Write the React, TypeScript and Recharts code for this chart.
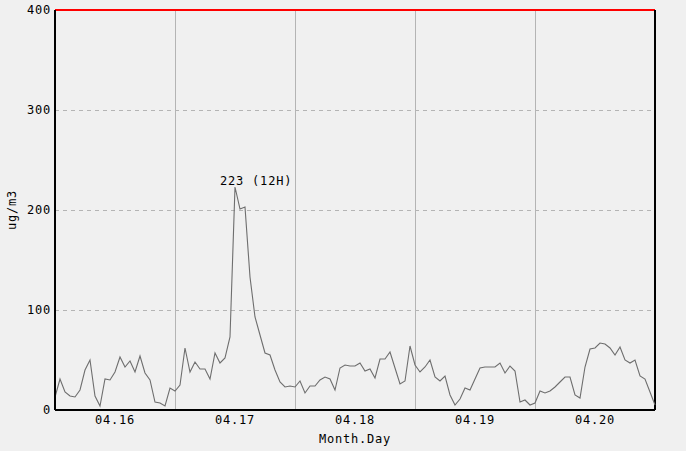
import React from "react";
import {
  CartesianGrid,
  LabelList,
  Line,
  LineChart,
  ReferenceLine,
  XAxis,
  YAxis,
} from "recharts";

// hourly concentration, 04.16 00H .. 04.20 24H
const values = [
  13, 31, 18, 14, 13, 20, 40, 50, 14, 4, 31, 30, 38, 53, 43, 49, 38, 54, 37, 30, 8, 7, 4, 22, 19,
  25, 62, 38, 48, 41, 41, 31, 57, 47, 52, 73, 223, 201, 203, 133, 93, 75, 57, 55, 40, 28, 23, 24, 23,
  29, 17, 24, 24, 30, 33, 31, 20, 42, 45, 44, 44, 47, 39, 41, 32, 51, 51, 58, 42, 26, 29, 64, 45,
  38, 43, 50, 33, 29, 34, 15, 5, 11, 22, 20, 31, 42, 43, 43, 43, 47, 37, 44, 39, 8, 10, 5, 7,
  19, 17, 19, 23, 28, 33, 33, 15, 12, 43, 61, 62, 67, 66, 62, 55, 63, 50, 47, 50, 34, 31, 18, 5,
];
const dayLabels = ["04.16", "04.17", "04.18", "04.19", "04.20"];
const dayTicks = [12, 36, 60, 84, 108];
const dayBounds = [24, 48, 72, 96];
const yTicks = [0, 100, 200, 300, 400];

const data = values.map((v, h) => ({ h, v }));
const peak = Math.max(...values);
const peakIndex = values.indexOf(peak);

const font = "'DejaVu Sans Mono', monospace";
const textStyle = { fontFamily: font, fontSize: 12, fill: "#000", letterSpacing: 0.8 };

function PeakLabel(props: any) {
  const { x, y, index } = props;
  if (index !== peakIndex) return null;
  return (
    <text x={x - 15} y={y - 2} style={textStyle}>
      {`${peak} (${peakIndex % 24}H)`}
    </text>
  );
}

export default function App() {
  return (
    <div
      style={{
        position: "absolute",
        top: 0,
        left: 0,
        width: 686,
        height: 451,
        background: "#f0f0f0",
      }}
    >
      <LineChart
        width={686}
        height={451}
        data={data}
        margin={{ top: 10, right: 31, bottom: 0, left: 0 }}
      >
        <CartesianGrid
          vertical={false}
          stroke="#b4b4b4"
          strokeDasharray="4 4"
          shapeRendering="crispEdges"
        />
        {dayBounds.map((d) => (
          <ReferenceLine key={d} x={d} stroke="#b4b4b4" shapeRendering="crispEdges" />
        ))}
        <ReferenceLine y={400} stroke="#ff0000" strokeWidth={1.5} shapeRendering="crispEdges" />
        <ReferenceLine x={120} stroke="#000" strokeWidth={1.5} shapeRendering="crispEdges" />
        <XAxis
          type="number"
          dataKey="h"
          domain={[0, 120]}
          ticks={dayTicks}
          tickFormatter={(t: number) => dayLabels[dayTicks.indexOf(t)]}
          tickLine={false}
          tickSize={3}
          tickMargin={2}
          axisLine={{ stroke: "#000", strokeWidth: 1.5, shapeRendering: "crispEdges" }}
          tick={textStyle}
          height={41}
          label={{
            value: "Month.Day",
            position: "insideBottom",
            offset: 8,
            style: textStyle,
          }}
        />
        <YAxis
          type="number"
          domain={[0, 400]}
          ticks={yTicks}
          tickLine={false}
          tickSize={2}
          tickMargin={2}
          axisLine={{ stroke: "#000", strokeWidth: 1.5, shapeRendering: "crispEdges" }}
          tick={textStyle}
          width={55}
          label={{
            value: "ug/m3",
            angle: -90,
            position: "insideLeft",
            offset: 12,
            style: { ...textStyle, textAnchor: "middle" },
          }}
        />
        <Line
          type="linear"
          dataKey="v"
          stroke="#6e6e6e"
          strokeWidth={1.1}
          dot={false}
          isAnimationActive={false}
        >
          <LabelList dataKey="v" content={PeakLabel} />
        </Line>
      </LineChart>
    </div>
  );
}
